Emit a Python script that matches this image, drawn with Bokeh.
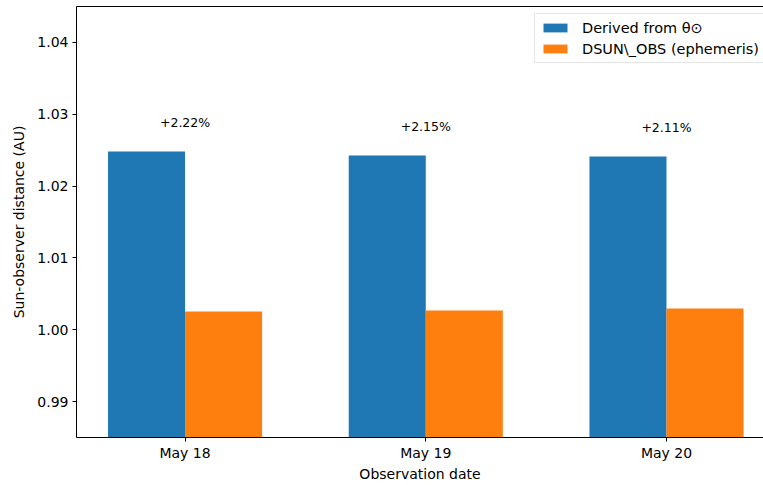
import numpy as np
from bokeh.plotting import figure
from bokeh.models import (ColumnDataSource, Range1d, FixedTicker, LinearAxis,
                          Legend, LegendItem)
from bokeh.core.properties import value
from bokeh.embed import file_html
from bokeh.resources import INLINE

dates = ["May 18", "May 19", "May 20"]
derived = [1.0248, 1.02425, 1.02413]
ephemeris = [1.00253, 1.00267, 1.00295]
pct_labels = ["+2.22%", "+2.15%", "+2.11%"]
y_ticks = [0.99, 1.00, 1.01, 1.02, 1.03, 1.04]
y_tick_labels = ["0.99", "1.00", "1.01", "1.02", "1.03", "1.04"]

FONT = "DejaVu Sans"
bar_w = 0.32
idx = np.arange(len(dates))

p = figure(width=763, height=485, output_backend="svg", toolbar_location=None,
           x_range=Range1d(-0.451, 2.403), y_range=Range1d(0.985, 1.045),
           x_axis_location=None, y_axis_location=None,
           min_border_left=76, min_border_right=0, min_border_top=6,
           min_border_bottom=48)
p.outline_line_color = None
p.xgrid.visible = False
p.ygrid.visible = False
p.background_fill_color = "white"
p.border_fill_color = "white"

src_d = ColumnDataSource(dict(x=idx - bar_w / 2, top=derived))
src_e = ColumnDataSource(dict(x=idx + bar_w / 2, top=ephemeris))
r1 = p.vbar(x="x", top="top", bottom=0.985, width=bar_w, source=src_d,
            fill_color="#1f77b4", line_color=None)
r2 = p.vbar(x="x", top="top", bottom=0.985, width=bar_w, source=src_e,
            fill_color="#ff7f0e", line_color=None)

src_t = ColumnDataSource(dict(x=idx, y=np.array(derived) + 0.004, t=pct_labels))
p.text(x="x", y="y", text="t", source=src_t, text_align="center",
       text_baseline="middle", text_font=value(FONT), text_font_size="12.5px",
       text_color="black")

def style_axis(ax):
    ax.axis_line_color = "black"
    ax.axis_line_width = 1
    ax.major_tick_line_color = "black"
    ax.major_tick_out = 4
    ax.major_tick_in = 0
    ax.minor_tick_line_color = None
    ax.major_label_text_font = FONT
    ax.major_label_text_font_size = "14px"
    ax.major_label_text_color = "black"
    ax.axis_label_text_font = FONT
    ax.axis_label_text_font_size = "14px"
    ax.axis_label_text_font_style = "normal"
    ax.axis_label_text_color = "black"

xa = LinearAxis(ticker=FixedTicker(ticks=list(idx)),
                major_label_overrides={int(i): d for i, d in zip(idx, dates)},
                axis_label="Observation date")
style_axis(xa)
xa.major_label_standoff = 3
xa.axis_label_standoff = 2
p.add_layout(xa, "below")

ya = LinearAxis(ticker=FixedTicker(ticks=y_ticks),
                major_label_overrides={t: s for t, s in zip(y_ticks, y_tick_labels)},
                axis_label="Sun-observer distance (AU)")
ya.major_label_overrides = {1: "1.00", **{t: s for t, s in zip(y_ticks, y_tick_labels)}}
style_axis(ya)
ya.major_label_standoff = 4
ya.axis_label_standoff = 7
p.add_layout(ya, "left")

ta = LinearAxis(ticker=FixedTicker(ticks=[]))
ta.axis_line_color = "black"
ta.major_tick_line_color = None
ta.minor_tick_line_color = None
ta.major_label_text_font_size = "0px"
p.add_layout(ta, "above")

legend = Legend(items=[LegendItem(label="Derived from θ⊙", renderers=[r1]),
                       LegendItem(label="DSUN\\_OBS (ephemeris)", renderers=[r2])],
                location=(458, 374))
legend.label_text_font = FONT
legend.label_text_font_size = "14.5px"
legend.label_text_color = "black"
legend.glyph_width = 30
legend.glyph_height = 11
legend.label_height = 17
legend.label_standoff = 12
legend.spacing = 4
legend.padding = 5
legend.margin = 0
legend.border_line_color = "#cccccc"
legend.background_fill_alpha = 0.8
p.add_layout(legend, "center")

open("out.html", "w").write(file_html(p, INLINE))
